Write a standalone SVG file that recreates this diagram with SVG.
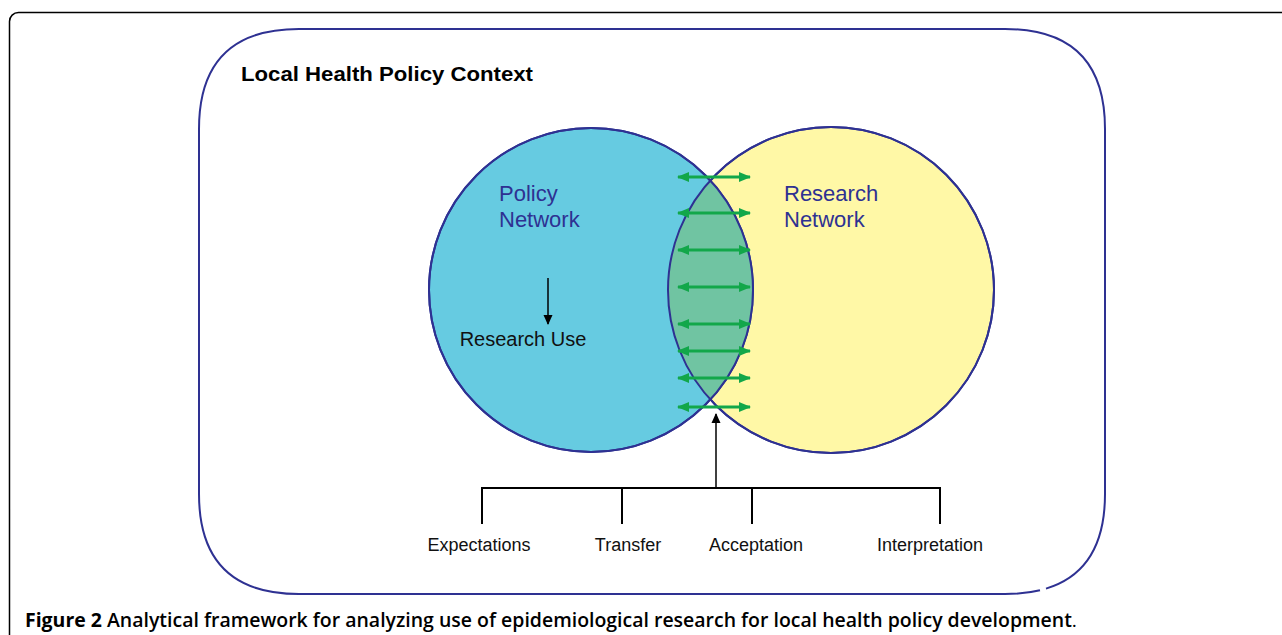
<svg xmlns="http://www.w3.org/2000/svg" width="1282" height="635" viewBox="0 0 1282 635">
<defs>
<style>
.lbl{font-family:"Liberation Sans",Arial,sans-serif;font-size:18px;fill:#111}
.net{font-family:"Liberation Sans",Arial,sans-serif;font-size:22px;fill:#2E3192}
.ga{stroke:#12A74A;stroke-width:3;fill:none;marker-start:url(#gs);marker-end:url(#ge)}
.bl{stroke:#000;stroke-width:2;fill:none}
</style>
<marker id="ge" markerWidth="12" markerHeight="10" refX="11" refY="5" orient="auto" markerUnits="userSpaceOnUse"><path d="M0,0 L12,5 L0,10 Z" fill="#12A74A"/></marker>
<marker id="gs" markerWidth="12" markerHeight="10" refX="1" refY="5" orient="auto" markerUnits="userSpaceOnUse"><path d="M12,0 L0,5 L12,10 Z" fill="#12A74A"/></marker>
<marker id="ba" markerWidth="10" markerHeight="10" refX="9" refY="5" orient="auto" markerUnits="userSpaceOnUse"><path d="M0,0.5 L10,5 L0,9.5 Z" fill="#000"/></marker>
<clipPath id="cl"><circle cx="591" cy="290" r="162"/></clipPath>
</defs>
<rect width="1282" height="635" fill="#fff"/>
<g id="frame"><rect x="9.5" y="12.5" width="1290" height="640" rx="9" fill="none" stroke="#000" stroke-width="1.5"/></g>
<g id="context">
<path d="M1040,590.2 Q1024.4,594 1005,594 L299,594 Q199,594 199,494 L199,129 Q199,29 299,29 L1005,29 Q1105,29 1105,129 L1105,494 Q1105,570.8 1046,588.6" fill="none" stroke="#2E3192" stroke-width="2"/>
<text x="241" y="81" font-family="Liberation Sans,Arial,sans-serif" font-weight="bold" font-size="21" fill="#000" textLength="292" lengthAdjust="spacingAndGlyphs">Local Health Policy Context</text>
</g>
<g id="research-network">
<circle cx="831" cy="290" r="163" fill="#FFF8A6" stroke="#2E3192" stroke-width="2"/>
<text class="net" x="784" y="201">Research</text>
<text class="net" x="784" y="227">Network</text>
</g>
<g id="policy-network">
<circle cx="591" cy="290" r="162" fill="#66CBE1" stroke="#2E3192" stroke-width="2"/>
<circle cx="831" cy="290" r="163" fill="#70C4A2" clip-path="url(#cl)"/>
<circle cx="591" cy="290" r="162" fill="none" stroke="#2E3192" stroke-width="2"/>
<circle cx="831" cy="290" r="163" fill="none" stroke="#2E3192" stroke-width="2"/>
<text class="net" x="499" y="201">Policy</text>
<text class="net" x="499" y="227">Network</text>
</g>
<g id="research-use">
<text class="lbl" x="523" y="346" text-anchor="middle" style="font-size:20px">Research Use</text>
</g>
<g id="factors">
<text class="lbl" x="479" y="551" text-anchor="middle">Expectations</text>
<text class="lbl" x="628" y="551" text-anchor="middle">Transfer</text>
<text class="lbl" x="756" y="551" text-anchor="middle">Acceptation</text>
<text class="lbl" x="930" y="551" text-anchor="middle">Interpretation</text>
</g>
<g id="connectors">
<line class="ga" x1="678" y1="177" x2="750" y2="177"/>
<line class="ga" x1="678" y1="213" x2="750" y2="213"/>
<line class="ga" x1="678" y1="250" x2="750" y2="250"/>
<line class="ga" x1="678" y1="287" x2="750" y2="287"/>
<line class="ga" x1="678" y1="324" x2="750" y2="324"/>
<line class="ga" x1="678" y1="351" x2="750" y2="351"/>
<line class="ga" x1="678" y1="378" x2="750" y2="378"/>
<line class="ga" x1="678" y1="407" x2="750" y2="407"/>
<line x1="548" y1="278" x2="548" y2="324" stroke="#000" stroke-width="1.5" marker-end="url(#ba)"/>
<line x1="716" y1="488" x2="716" y2="414" stroke="#000" stroke-width="1.5" marker-end="url(#ba)"/>
<path class="bl" d="M482,524 V488 H940 V524 M622,488 V524 M752,488 V524"/>
</g>
<g id="caption">
<text x="25" y="627" font-family="'Open Sans',sans-serif" font-size="19" fill="#000" textLength="1052" lengthAdjust="spacingAndGlyphs"><tspan font-weight="bold">Figure 2</tspan><tspan font-weight="600"> Analytical framework for analyzing use of epidemiological research for local health policy development</tspan><tspan font-weight="normal">.</tspan></text>
</g>
</svg>
